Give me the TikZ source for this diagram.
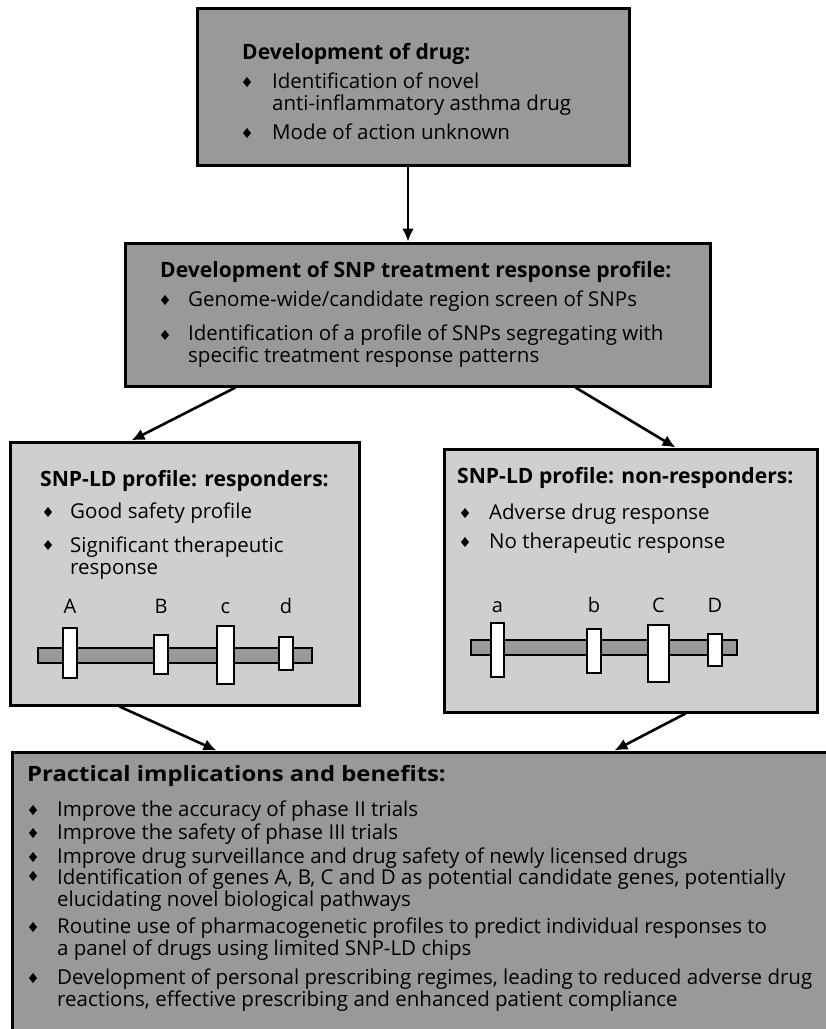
\documentclass[tikz,border=0pt]{standalone}
\usepackage{fontspec}
\setmainfont{Open Sans}
\newfontfamily\implfont[FakeStretch=1.13]{Open Sans}
\usetikzlibrary{calc, positioning, arrows.meta}

\definecolor{boxdark}{gray}{0.6}
\definecolor{boxlight}{gray}{0.81}

\tikzset{
  panel/.style={draw, line width=3pt, rectangle, inner sep=0pt},
  head/.style={anchor=base west, inner sep=0pt, font=\fontsize{21.1}{22}\selectfont\bfseries},
  item/.style={anchor=base west, inner sep=0pt, align=left, font=\fontsize{20.5}{22}\selectfont},
  implhead/.style={head, font=\fontsize{21.1}{22}\selectfont\implfont\bfseries},
  implitem/.style={item, font=\fontsize{20.5}{22.5}\selectfont},
  letter/.style={anchor=base, inner sep=0pt, font=\fontsize{20}{22}\selectfont},
  gene/.style={draw, fill=white, line width=1.5pt},
  bar/.style={draw, fill=boxdark, line width=1.5pt},
  link/.style={-{Latex[length=13pt, width=12pt]}, line width=2.6pt},
  dmd/.pic={\fill (0,-5) -- (4,0) -- (0,5) -- (-4,0) -- cycle;}
}

\begin{document}
\begin{tikzpicture}[x=1pt, y=-1pt]
  \useasboundingbox (0,0) rectangle (826,1029);
  \clip (0,0) rectangle (826,1029);

  % boxes
  \node [panel, fill=boxdark, minimum width=432pt, minimum height=157pt] (drug) at (413,86.5) {};
  \node [panel, fill=boxdark, minimum width=585pt, minimum height=143pt] (prof) at (417.5,314.5) {};
  \node [panel, fill=boxlight, minimum width=349pt, minimum height=263pt] (resp) at (184.5,573.5) {};
  \node [panel, fill=boxlight, minimum width=373pt, minimum height=263pt] (nonresp) at (630.5,580.5) {};
  \node [panel, fill=boxdark, minimum width=838pt, minimum height=308pt] (impl) at (431,906) {};

  % development of drug
  \node [head] (drughead) at (242,59) {Development of drug:};
  \pic at (247,82) {dmd};
  \pic at (247,133) {dmd};
  \node [item] (drug1) at (272,110) {Identification of novel\\anti-inflammatory asthma drug};
  \node [item] (drug2) at (272,139) {Mode of action unknown};

  % SNP profile
  \node [head] (profhead) at (160,277) {Development of SNP treatment response profile:};
  \pic at (165,300) {dmd};
  \pic at (165,335) {dmd};
  \node [item] (prof1) at (188,306) {Genome-wide/candidate region screen of SNPs};
  \node [item] (prof2) at (188,362) {Identification of a profile of SNPs segregating with\\specific treatment response patterns};

  % responders
  \node [head] (resphead) at (40,486) {SNP-LD profile: responders:};
  \pic at (48,512) {dmd};
  \pic at (48,545) {dmd};
  \node [item] (resp1) at (70,518) {Good safety profile};
  \node [item] (resp2) at (70,574) {Significant therapeutic\\response};
  \draw [bar] (38,648) rectangle (312,663);
  \draw [gene] (63,628) rectangle (77,678);
  \draw [gene] (154,635) rectangle (168,674);
  \draw [gene] (217,626) rectangle (234,684);
  \draw [gene] (279,637) rectangle (293,670);
  \node [letter] (gA) at (70,613) {A};
  \node [letter] (gB) at (161,613) {B};
  \node [letter] (gc) at (225.5,613) {c};
  \node [letter] (gd) at (286,613) {d};

  % non-responders
  \node [head] (nonhead) at (457,483) {SNP-LD profile: non-responders:};
  \pic at (465,513) {dmd};
  \pic at (465,542) {dmd};
  \node [item] (non1) at (489,519) {Adverse drug response};
  \node [item] (non2) at (489,548) {No therapeutic response};
  \draw [bar] (471,640) rectangle (737,655);
  \draw [gene] (491,623) rectangle (504,677);
  \draw [gene] (587,629) rectangle (601,673);
  \draw [gene] (648,625) rectangle (669,682);
  \draw [gene] (708,634) rectangle (722,666);
  \node [letter] (ga) at (497.5,612) {a};
  \node [letter] (gb) at (594,612) {b};
  \node [letter] (gC) at (658.5,612) {C};
  \node [letter] (gD) at (715,612) {D};

  % implications
  \node [implhead] (implhead) at (27,781) {Practical implications and benefits:};
  \pic at (33,810) {dmd};
  \pic at (33,833) {dmd};
  \pic at (33,857) {dmd};
  \pic at (33,876) {dmd};
  \pic at (33,927) {dmd};
  \pic at (33,978) {dmd};
  \node [implitem] (impl1) at (57,816) {Improve the accuracy of phase II trials};
  \node [implitem] (impl2) at (57,839) {Improve the safety of phase III trials};
  \node [implitem] (impl3) at (57,863) {Improve drug surveillance and drug safety of newly licensed drugs};
  \node [implitem] (impl4) at (57,906.5) {Identification of genes A, B, C and D as potential candidate genes, potentially\\elucidating novel biological pathways};
  \node [implitem] (impl5) at (57,955.5) {Routine use of pharmacogenetic profiles to predict individual responses to\\a panel of drugs using limited SNP-LD chips};
  \node [implitem] (impl6) at (57,1006.5) {Development of personal prescribing regimes, leading to reduced adverse drug\\reactions, effective prescribing and enhanced patient compliance};

  % arrows
  \draw [link] ($(drug.south)+(-5,0)$) -- ($(prof.north)+(-9.5,0)$);
  \draw [link] ($(prof.south west)+(112,0)$) -- ($(resp.north west)+(123,0)$);
  \draw [link] ($(prof.south west)+(452,0)$) -- ($(nonresp.north west)+(233,0)$);
  \draw [link] ($(resp.south west)+(111,0)$) -- ($(impl.north west)+(206,0)$);
  \draw [link] ($(nonresp.south west)+(243,0)$) -- ($(impl.north west)+(604,0)$);
\end{tikzpicture}
\end{document}
